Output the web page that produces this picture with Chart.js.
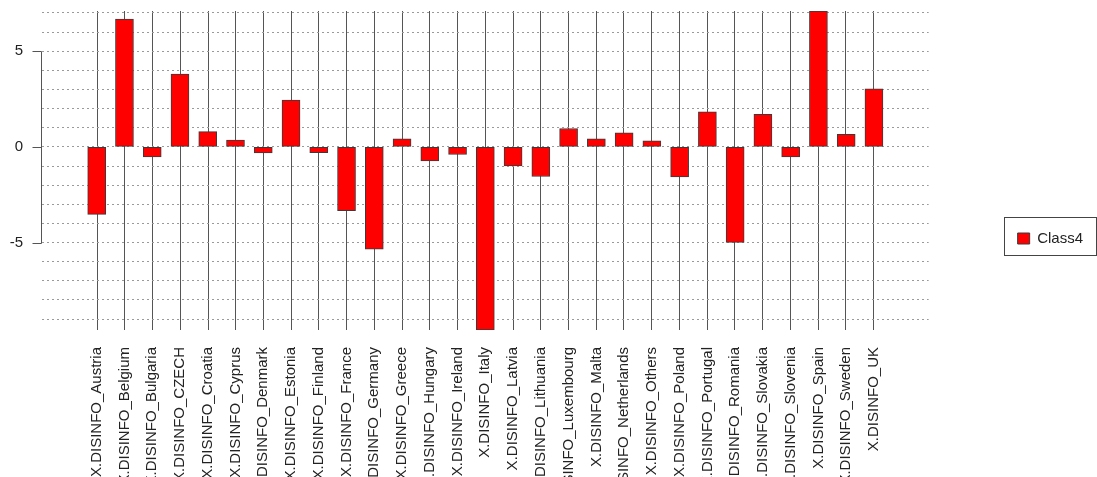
<!DOCTYPE html>
<html>
<head>
<meta charset="utf-8">
<script src="https://cdn.jsdelivr.net/npm/chart.js@4"></script>
<style>
  html, body { margin: 0; padding: 0; background: #fff; overflow: hidden; }
  #wrap { width: 1097px; height: 477px; }
</style>
</head>
<body>
<div id="wrap"><canvas id="grafico" width="1097" height="477"></canvas></div>
<script>
// categorias (paises) y valores de la serie Class4
var paises = ['X.DISINFO_Austria', 'X.DISINFO_Belgium', 'X.DISINFO_Bulgaria', 'X.DISINFO_CZECH',
    'X.DISINFO_Croatia', 'X.DISINFO_Cyprus', 'X.DISINFO_Denmark', 'X.DISINFO_Estonia',
    'X.DISINFO_Finland', 'X.DISINFO_France', 'X.DISINFO_Germany', 'X.DISINFO_Greece',
    'X.DISINFO_Hungary', 'X.DISINFO_Ireland', 'X.DISINFO_Italy', 'X.DISINFO_Latvia',
    'X.DISINFO_Lithuania', 'X.DISINFO_Luxembourg', 'X.DISINFO_Malta', 'X.DISINFO_Netherlands',
    'X.DISINFO_Others', 'X.DISINFO_Poland', 'X.DISINFO_Portugal', 'X.DISINFO_Romania',
    'X.DISINFO_Slovakia', 'X.DISINFO_Slovenia', 'X.DISINFO_Spain', 'X.DISINFO_Sweden', 'X.DISINFO_UK'];
var class4 = [-3.53, 6.68, -0.52, 3.81, 0.80, 0.35, -0.31, 2.45, -0.30, -3.34, -5.34, 0.42,
    -0.73, -0.40, -9.57, -0.99, -1.55, 0.96, 0.42, 0.73, 0.31, -1.57, 1.83, -4.99,
    1.70, -0.52, 7.10, 0.66, 3.03];
var nombreSerie = 'Class4';
var marcasY = [-5, 0, 5];

var fuente = "'Liberation Sans', Arial, Helvetica, sans-serif";
var yMin = Math.min.apply(null, class4);
var yMax = Math.max.apply(null, class4);

// eje estilo R: linea de -5 a 5 con sus marcas, y marco de la leyenda
var ejeR = {
    id: 'ejeR',
    afterDraw: function (chart) {
        var ctx = chart.ctx;
        var y = chart.scales.y;
        var x0 = chart.chartArea.left - 0.5;
        ctx.save();
        ctx.strokeStyle = '#555';
        ctx.lineWidth = 1;
        ctx.beginPath();
        ctx.moveTo(x0, Math.round(y.getPixelForValue(marcasY[0])) + 0.5);
        ctx.lineTo(x0, Math.round(y.getPixelForValue(marcasY[marcasY.length - 1])) + 0.5);
        marcasY.forEach(function (v) {
            var py = Math.round(y.getPixelForValue(v)) + 0.5;
            ctx.moveTo(x0, py);
            ctx.lineTo(x0 - 9, py);
        });
        ctx.stroke();
        var lg = chart.legend;
        if (lg && lg.legendHitBoxes && lg.legendHitBoxes.length) {
            var hb = lg.legendHitBoxes[0];
            ctx.strokeStyle = '#444';
            ctx.strokeRect(Math.round(hb.left - 14) + 0.5, Math.round(hb.top - 14) + 0.5, 92, 38);
        }
        ctx.restore();
    }
};

new Chart(document.getElementById('grafico'), {
    type: 'bar',
    data: {
        datasets: [{
            label: nombreSerie,
            data: class4.map(function (v, i) { return { x: i, y: v }; }),
            backgroundColor: '#ff0000',
            borderColor: '#3a3a3a',
            borderWidth: 1,
            borderSkipped: false,
            barThickness: 18,
            xAxisID: 'x',
            yAxisID: 'y'
        }]
    },
    options: {
        responsive: false,
        animation: false,
        layout: { padding: { top: 0, left: 0, right: 4, bottom: 0 } },
        plugins: {
            tooltip: { enabled: false },
            legend: {
                position: 'right',
                labels: {
                    boxWidth: 12,
                    boxHeight: 11,
                    padding: 14,
                    color: '#222',
                    font: { family: fuente, size: 15 }
                }
            }
        },
        scales: {
            x: {
                type: 'linear',
                position: 'bottom',
                min: -1.42,
                max: 29.42,
                afterBuildTicks: function (s) {
                    s.ticks = paises.map(function (_, i) { return { value: i }; });
                },
                afterFit: function (s) { s.height = 147; },
                grid: { display: false, drawTicks: false },
                border: { display: false },
                ticks: {
                    autoSkip: false,
                    minRotation: 90,
                    maxRotation: 90,
                    padding: 17,
                    color: '#222',
                    font: { family: fuente, size: 15 },
                    callback: function (v) { return paises[v]; }
                }
            },
            sep: {
                type: 'linear',
                position: 'top',
                min: -1.42,
                max: 29.42,
                afterBuildTicks: function (s) {
                    s.ticks = paises.slice(1).map(function (_, i) { return { value: i + 0.5 }; });
                },
                afterFit: function (s) { s.height = 11; },
                grid: { color: '#555', lineWidth: 1, drawTicks: false },
                border: { display: false },
                ticks: { display: false }
            },
            y: {
                type: 'linear',
                position: 'left',
                min: yMin,
                max: yMax,
                afterBuildTicks: function (s) {
                    var t = [];
                    for (var v = Math.ceil(yMin); v <= Math.floor(yMax); v++) t.push({ value: v });
                    s.ticks = t;
                },
                afterFit: function (s) { s.width = 42; },
                grid: { color: '#9a9a9a', lineWidth: 1, drawTicks: true, tickLength: 19, tickColor: 'rgba(0,0,0,0)' },
                border: { display: false, dash: [2, 3] },
                ticks: {
                    autoSkip: false,
                    padding: 0,
                    color: '#222',
                    font: { family: fuente, size: 15 },
                    callback: function (v) { return marcasY.indexOf(v) >= 0 ? String(v) : ''; }
                }
            },
            hueco: {
                type: 'linear',
                position: 'right',
                afterFit: function (s) { s.width = 75; },
                grid: { display: false, drawTicks: false },
                border: { display: false },
                ticks: { display: false }
            }
        }
    },
    plugins: [ejeR]
});
</script>
</body>
</html>
